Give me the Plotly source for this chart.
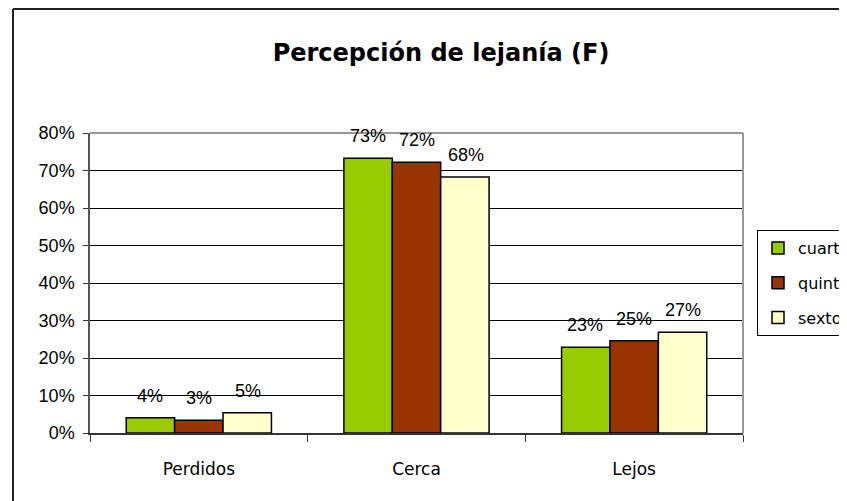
import plotly.graph_objects as go

categories = ["Perdidos", "Cerca", "Lejos"]
cuarto = [0.041, 0.733, 0.229]
quinto = [0.034, 0.722, 0.246]
sexto = [0.054, 0.683, 0.269]
series_names = ["cuarto", "quinto", "sexto"]
series_colors = ["#99CC00", "#993300", "#FFFFCC"]
y_ticks = [0, 0.1, 0.2, 0.3, 0.4, 0.5, 0.6, 0.7, 0.8]
y_tick_labels = ["0%", "10%", "20%", "30%", "40%", "50%", "60%", "70%", "80%"]
title_text = "Percepción de lejanía (F)"

OFF = 8  # page body margin
W, H = 847 + OFF, 501
L, R, T, B = 90 - OFF, 743 - OFF, 133 - OFF, 433 - OFF

fig = go.Figure()
annotations = []
bar_px = 49
for i, (name, vals, col) in enumerate(zip(series_names, [cuarto, quinto, sexto], series_colors)):
    fig.add_trace(go.Bar(
        x=categories, y=vals, name=name, legendgroup=name,
        marker=dict(color=col, line=dict(color="black", width=1.5)),
    ))
    for c, v in zip(categories, vals):
        annotations.append(dict(
            x=c, y=v, xref="x", yref="y", text=f"{round(v*100):.0f}%",
            showarrow=False, xshift=(i - 1) * bar_px, yshift=22,
            xanchor="center", yanchor="middle",
            font=dict(family="Liberation Sans, Arial", size=18, color="black"),
        ))

def px_x(x):
    return (x - OFF - L) / (R - L)

def px_y(y):
    return (B - (y - OFF)) / (B - T)

fig.update_layout(
    width=W, height=H,
    margin=dict(l=L, r=W - R, t=T, b=H - B, pad=0, autoexpand=False),
    paper_bgcolor="white", plot_bgcolor="white",
    barmode="group", bargap=0.333, bargroupgap=0,
    title=dict(text="<b>" + title_text + "</b>", xref="container",
               x=(441 - OFF) / W, xanchor="center",
               y=1 - (53 - OFF) / H, yanchor="middle",
               font=dict(family="Comic Sans MS, DejaVu Sans", size=24, color="black")),
    showlegend=True,
    legend=dict(x=px_x(757), y=px_y(230), xanchor="left", yanchor="top",
                bordercolor="black", borderwidth=1, bgcolor="white",
                tracegroupgap=11, traceorder="grouped", itemwidth=30,
                font=dict(family="Comic Sans MS, DejaVu Sans", size=16, color="black")),
    xaxis=dict(range=[-0.5, 2.5], showline=True, linecolor="#333333", linewidth=1.5,
               ticks="outside", tickson="boundaries", ticklen=7, tickcolor="#333333",
               ticklabelstandoff=20,
               mirror=False, showgrid=False,
               tickfont=dict(family="Comic Sans MS, DejaVu Sans", size=17, color="black")),
    yaxis=dict(range=[0, 0.8], tickvals=y_ticks, ticktext=y_tick_labels,
               showline=True, linecolor="#555555", linewidth=1.5,
               ticks="outside", ticklen=5, tickcolor="#333333",
               ticklabelstandoff=5,
               showgrid=True, gridcolor="black", gridwidth=1, zeroline=False,
               tickfont=dict(family="Liberation Sans, Arial", size=18, color="black")),
    annotations=annotations,
    shapes=[
        dict(type="line", xref="paper", yref="paper", x0=0, x1=1, y0=1, y1=1,
             line=dict(color="#999999", width=2)),
        dict(type="line", xref="paper", yref="paper", x0=1, x1=1, y0=0, y1=1,
             line=dict(color="#999999", width=2)),
        dict(type="line", xref="paper", yref="paper", x0=px_x(13), x1=px_x(W + 20),
             y0=px_y(9), y1=px_y(9), line=dict(color="#222222", width=2)),
        dict(type="line", xref="paper", yref="paper", x0=px_x(13), x1=px_x(13),
             y0=px_y(9), y1=px_y(H + 20), line=dict(color="#222222", width=2)),
    ],
)

fig.write_html("out.html")
